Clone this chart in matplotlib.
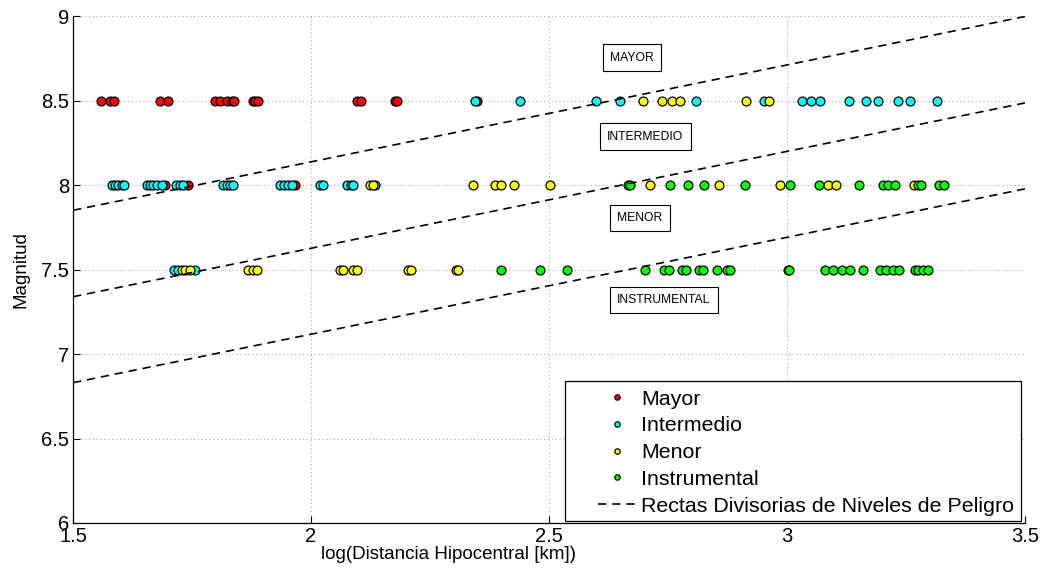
import matplotlib
matplotlib.use("Agg")
import matplotlib.pyplot as plt
from matplotlib.ticker import FuncFormatter
from matplotlib.patches import Rectangle
import numpy as np

plt.rcParams['font.family'] = ['Liberation Sans', 'DejaVu Sans']

# ---- data ----
mayor_85 = [1.558, 1.578, 1.585, 1.683, 1.700, 1.799, 1.809, 1.823, 1.834, 1.838,
            1.878, 1.882, 1.889, 2.097, 2.104, 2.176, 2.181, 2.348]
mayor_80 = [1.693, 1.742, 1.966]

inter_85 = [2.345, 2.439, 2.598, 2.649, 2.809, 2.952, 3.031, 3.050, 3.069, 3.130,
            3.165, 3.191, 3.234, 3.259, 3.316]
inter_80 = [1.581, 1.588, 1.595, 1.602, 1.606, 1.655, 1.662, 1.669, 1.677, 1.686,
            1.717, 1.724, 1.731, 1.816, 1.823, 1.830, 1.836, 1.935, 1.943, 1.952,
            1.959, 2.019, 2.026, 2.075, 2.083, 2.089, 2.134]
inter_75 = [1.712, 1.721, 1.756]

menor_85 = [2.697, 2.738, 2.758, 2.775, 2.913, 2.962]
menor_80 = [2.124, 2.131, 2.340, 2.386, 2.400, 2.426, 2.502, 2.713, 2.856, 2.986,
            3.087, 3.103, 3.266]
menor_75 = [1.728, 1.735, 1.745, 1.868, 1.879, 1.887, 2.060, 2.068, 2.089, 2.096,
            2.204, 2.211, 2.305, 2.308]

instr_80 = [2.666, 2.671, 2.755, 2.791, 2.826, 2.911, 3.007, 3.068, 3.151, 3.201,
            3.213, 3.227, 3.276, 3.281, 3.320, 3.330]
instr_75 = [2.400, 2.480, 2.537, 2.701, 2.742, 2.751, 2.779, 2.788, 2.814, 2.823,
            2.852, 2.873, 2.881, 3.001, 3.004, 3.080, 3.097, 3.115, 3.132, 3.160,
            3.196, 3.208, 3.222, 3.236, 3.269, 3.276, 3.285, 3.297]

line_slope = 0.574
line_intercepts = [6.991, 6.479, 5.970]

zone_labels = ['MAYOR', 'INTERMEDIO', 'MENOR', 'INSTRUMENTAL']
zone_label_x = [2.628, 2.622, 2.643, 2.643]
zone_label_y = [8.757, 8.289, 7.806, 7.321]

series = [
    ('Mayor', '#ff0000', [(mayor_85, 8.5), (mayor_80, 8.0)]),
    ('Intermedio', '#00ffff', [(inter_85, 8.5), (inter_80, 8.0), (inter_75, 7.5)]),
    ('Menor', '#ffff00', [(menor_85, 8.5), (menor_80, 8.0), (menor_75, 7.5)]),
    ('Instrumental', '#00ff00', [(instr_80, 8.0), (instr_75, 7.5)]),
]

fig = plt.figure(figsize=(10.48, 5.74), dpi=100)
ax = fig.add_axes([0.0697, 0.0889, 0.9084, 0.8824])

for name, color, rows in series:
    xs = np.concatenate([np.array(r[0]) for r in rows])
    ys = np.concatenate([np.full(len(r[0]), r[1]) for r in rows])
    ax.plot(xs, ys, linestyle='none', marker='o', markersize=6.4,
            markerfacecolor=color, markeredgecolor='black', markeredgewidth=0.9,
            label=name)

xl = np.array([1.5, 3.5])
for i, c in enumerate(line_intercepts):
    ax.plot(xl, line_slope * xl + c, color='black', linestyle=(0, (5, 3.5)),
            linewidth=1.2,
            label='Rectas Divisorias de Niveles de Peligro' if i == 0 else None)

for lab, x, y in zip(zone_labels, zone_label_x, zone_label_y):
    ax.text(x, y, lab, fontsize=8.7, va='center', ha='left',
            bbox=dict(boxstyle='square,pad=0.6', facecolor='white',
                      edgecolor='black', linewidth=0.8))

ax.set_xlim(1.5, 3.5)
ax.set_ylim(6, 9)
ax.set_xticks([1.5, 2, 2.5, 3, 3.5])
ax.set_yticks([6, 6.5, 7, 7.5, 8, 8.5, 9])
fmt = FuncFormatter(lambda v, p: ('%g' % v))
ax.xaxis.set_major_formatter(fmt)
ax.yaxis.set_major_formatter(fmt)
ax.tick_params(direction='in', labelsize=14.5, length=5, pad=3)
ax.grid(True, linestyle=(0, (1, 3)), color='#999999', linewidth=0.7)
ax.set_xlabel('log(Distancia Hipocentral [km])', fontsize=13.5, labelpad=1)
ax.xaxis.set_label_coords(0.394, -0.046)
ax.set_ylabel('Magnitud', fontsize=13.5, labelpad=8)
ax.spines['top'].set_visible(False)
ax.spines['right'].set_visible(False)
for s in ax.spines.values():
    s.set_linewidth(0.9)

# legend frame (MATLAB style, wide left margin)
frame = Rectangle((0.517, 0.004), 0.479, 0.276, transform=ax.transAxes,
                  facecolor='white', edgecolor='black', linewidth=0.9, zorder=4)
ax.add_patch(frame)
leg = ax.legend(loc='upper left', bbox_to_anchor=(0.551, 0.263),
                fontsize=15.4, markerscale=0.6,
                handlelength=1.85, handletextpad=0.2, labelspacing=0.36,
                borderpad=0.0, borderaxespad=0.0, frameon=False)
leg.set_zorder(5)

fig.savefig('out.png', dpi=100)
